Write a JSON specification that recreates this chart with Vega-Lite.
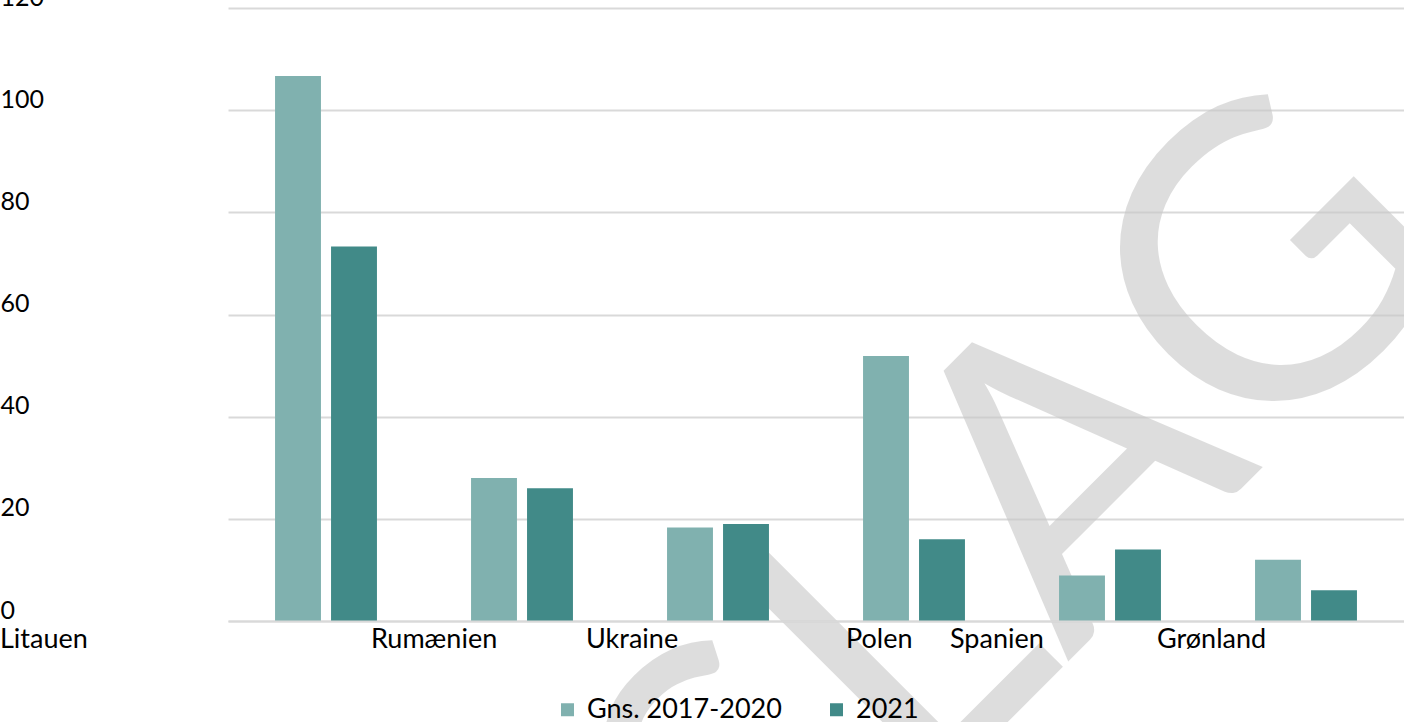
{
  "$schema": "https://vega.github.io/schema/vega-lite/v6.json",
  "width": 1176,
  "height": 613,
  "autosize": {"type": "none"},
  "padding": {"left": 228, "top": 8, "right": 0, "bottom": 101},
  "background": "#ffffff",
  "config": {
    "view": {"stroke": null},
    "font": "Lato",
    "text": {"font": "Lato"}
  },
  "resolve": {"scale": {"x": "independent"}, "axis": {"x": "independent"}},
  "layer": [
    {
      "data": {"values": [{"watermark": "FORSLAG"}]},
      "mark": {
        "type": "text",
        "font": "Lato",
        "fontSize": 410,
        "angle": 315,
        "align": "center",
        "baseline": "alphabetic",
        "fill": "#c8c8c8",
        "opacity": 0.6
      },
      "encoding": {
        "text": {"field": "watermark", "type": "nominal"},
        "x": {"datum": 0.51, "type": "quantitative", "scale": {"domain": [0, 1]}, "axis": null},
        "y": {"datum": -55, "type": "quantitative"}
      }
    },
    {
      "data": {
        "values": [
          {"land": "Litauen", "periode": "Gns. 2017-2020", "antal": 106.7},
          {"land": "Litauen", "periode": "2021", "antal": 73.3},
          {"land": "Rumænien", "periode": "Gns. 2017-2020", "antal": 28.0},
          {"land": "Rumænien", "periode": "2021", "antal": 26.0},
          {"land": "Ukraine", "periode": "Gns. 2017-2020", "antal": 18.3},
          {"land": "Ukraine", "periode": "2021", "antal": 19.0},
          {"land": "Polen", "periode": "Gns. 2017-2020", "antal": 51.9},
          {"land": "Polen", "periode": "2021", "antal": 16.0},
          {"land": "Spanien", "periode": "Gns. 2017-2020", "antal": 8.9},
          {"land": "Spanien", "periode": "2021", "antal": 14.0},
          {"land": "Grønland", "periode": "Gns. 2017-2020", "antal": 12.0},
          {"land": "Grønland", "periode": "2021", "antal": 6.0}
        ]
      },
      "mark": {"type": "bar"},
      "encoding": {
        "x": {
          "field": "land",
          "type": "nominal",
          "sort": ["Litauen", "Rumænien", "Ukraine", "Polen", "Spanien", "Grønland"],
          "scale": {"paddingInner": 0.48, "paddingOuter": 0.24},
          "axis": {
            "title": null,
            "zindex": 1,
            "domain": true,
            "domainColor": "#d9d9d9",
            "domainWidth": 2,
            "ticks": false,
            "tickSize": 0,
            "grid": false,
            "labelAngle": 0,
            "labelAlign": "left",
            "labelBaseline": "top",
            "labelPadding": 5,
            "labelFont": "Lato",
            "labelFontSize": 27,
            "labelColor": "#000000",
            "labelOverlap": false,
            "labelBound": false,
            "labelOffset": {"expr": "datum.value === 'Litauen' ? -326 : datum.value === 'Rumænien' ? -151 : datum.value === 'Ukraine' ? -132 : datum.value === 'Polen' ? -68 : datum.value === 'Spanien' ? -160 : -149"}
          }
        },
        "xOffset": {
          "field": "periode",
          "type": "nominal",
          "sort": ["Gns. 2017-2020", "2021"],
          "scale": {"paddingInner": 0.18, "paddingOuter": 0}
        },
        "y": {
          "field": "antal",
          "type": "quantitative",
          "scale": {"domain": [0, 120], "nice": false},
          "axis": {
            "title": null,
            "values": [0, 20, 40, 60, 80, 100, 120],
            "domain": false,
            "ticks": false,
            "tickSize": 0,
            "grid": true,
            "gridColor": "#d9d9d9",
            "gridWidth": 2,
            "labelAlign": "left",
            "labelBaseline": "alphabetic",
            "labelPadding": 228,
            "labelOffset": -3,
            "labelFont": "Lato",
            "labelFontSize": 25,
            "labelColor": "#000000",
            "labelBound": false,
            "labelFlush": false
          }
        },
        "color": {
          "field": "periode",
          "type": "nominal",
          "sort": ["Gns. 2017-2020", "2021"],
          "scale": {"domain": ["Gns. 2017-2020", "2021"], "range": ["#80B1AF", "#418A88"]},
          "legend": {
            "title": null,
            "orient": "none",
            "legendX": 326,
            "legendY": 688,
            "direction": "horizontal",
            "symbolType": "square",
            "symbolSize": 169,
            "symbolStrokeWidth": 0,
            "labelFont": "Lato",
            "labelFontSize": 27,
            "labelColor": "#000000",
            "labelOffset": 6,
            "columnPadding": 41,
            "padding": 0,
            "labelLimit": 400
          }
        }
      }
    }
  ]
}
